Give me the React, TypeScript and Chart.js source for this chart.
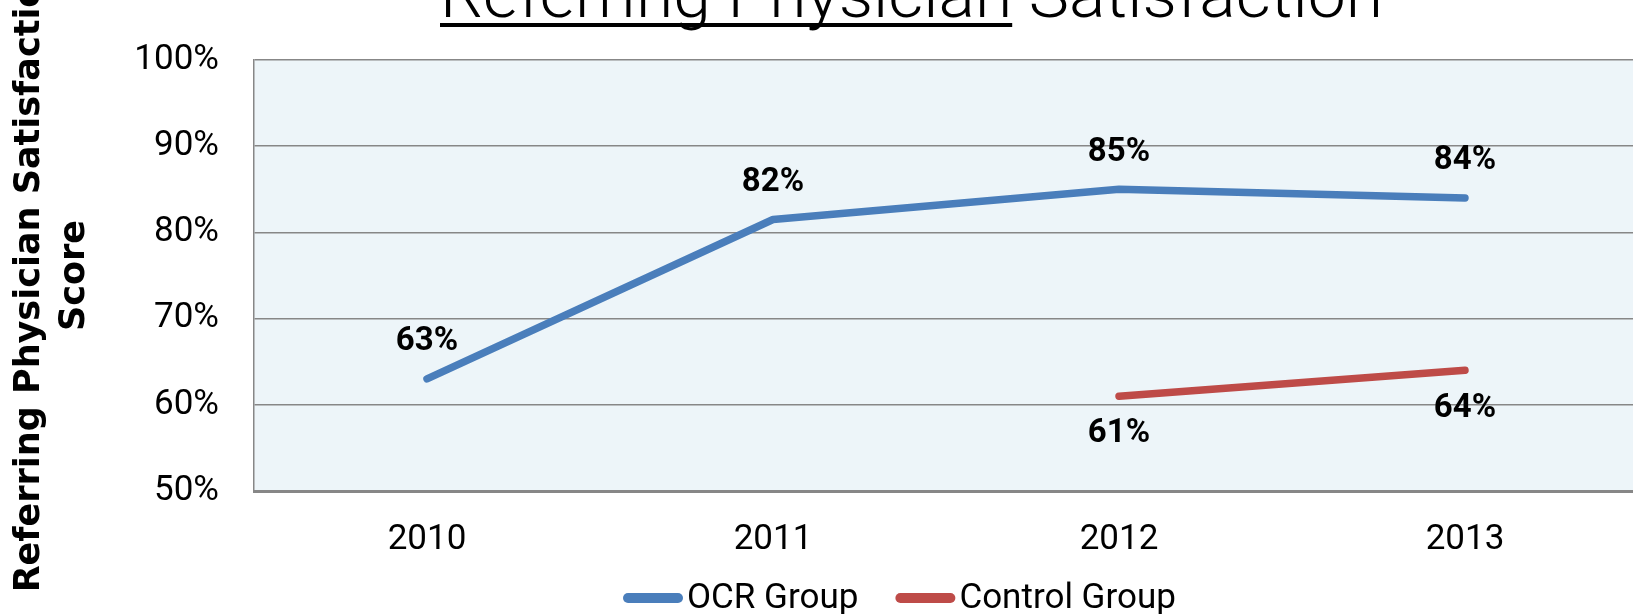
import React, { useEffect, useRef } from "react";
import { Chart, registerables } from "chart.js";

Chart.register(...registerables);

const categories = ["2010", "2011", "2012", "2013"];
const ocrValues = [63, 81.5, 85, 84];
const controlValues = [null, null, 61, 64];
const seriesNames = ["OCR Group", "Control Group"];
const seriesColors = ["#4A7EBB", "#BE4B48"];
const yMin = 50;
const yMax = 100;
const yStep = 10;
const titleUnderlined = "Referring Physician";
const titleRest = " Satisfaction";
const yAxisTitle = ["Referring Physician Satisfaction", "Score"];

const FAMILY = "Roboto, 'DejaVu Sans', sans-serif";
const TITLE_FAMILY = "'DejaVu Sans', Roboto, sans-serif";
const CANVAS_W = 1650;
const CANVAS_H = 614;

const plotBgPlugin = {
  id: "plotBg",
  beforeDraw(chart: any) {
    const { ctx, chartArea } = chart;
    ctx.save();
    ctx.fillStyle = "#EDF5F9";
    ctx.fillRect(chartArea.left, chartArea.top, chartArea.right - chartArea.left, chartArea.bottom - chartArea.top);
    ctx.restore();
  },
};

const dataLabelPlugin = {
  id: "dataLabels",
  afterDatasetsDraw(chart: any) {
    const { ctx } = chart;
    ctx.save();
    ctx.font = `bold 33px ${FAMILY}`;
    ctx.fillStyle = "#000";
    ctx.textAlign = "center";
    ctx.textBaseline = "middle";
    chart.data.datasets.forEach((ds: any, di: number) => {
      const meta = chart.getDatasetMeta(di);
      meta.data.forEach((pt: any, i: number) => {
        const v = ds.data[i];
        if (v === null || v === undefined) return;
        const dy = di === 0 ? -37 : 38;
        ctx.fillText(Math.round(v) + "%", pt.x, pt.y + dy);
      });
    });
    ctx.restore();
  },
};

const titleLegendPlugin = {
  id: "titleLegend",
  afterDraw(chart: any) {
    const { ctx } = chart;
    // Title
    ctx.save();
    ctx.font = `300 64px ${FAMILY}`;
    ctx.fillStyle = "#000";
    ctx.textBaseline = "alphabetic";
    ctx.textAlign = "left";
    const full = titleUnderlined + titleRest;
    const wFull = ctx.measureText(full).width;
    const wU = ctx.measureText(titleUnderlined).width;
    const left = 440;
    const right = 1383;
    const sx = (right - left) / wFull;
    ctx.translate(left, 17);
    ctx.scale(sx, 1);
    ctx.fillText(full, 0, 0);
    ctx.fillRect(0, 6, wU, 4);
    ctx.restore();

    // Legend
    ctx.save();
    ctx.font = `35px ${FAMILY}`;
    ctx.textBaseline = "alphabetic";
    ctx.textAlign = "left";
    let x = 623;
    chart.data.datasets.forEach((ds: any) => {
      ctx.strokeStyle = ds.borderColor;
      ctx.lineWidth = 10;
      ctx.lineCap = "round";
      ctx.beginPath();
      ctx.moveTo(x + 5, 598);
      ctx.lineTo(x + 55, 598);
      ctx.stroke();
      ctx.fillStyle = "#000";
      const tx = x + 64;
      ctx.fillText(ds.label, tx, 608);
      x = tx + ctx.measureText(ds.label).width + 37;
    });
    ctx.restore();
  },
};

export default function App() {
  const canvasRef = useRef<HTMLCanvasElement | null>(null);

  useEffect(() => {
    const canvas = canvasRef.current;
    if (!canvas) return;
    const chart = new Chart(canvas, {
      type: "line",
      data: {
        labels: categories,
        datasets: [
          {
            label: seriesNames[0],
            data: ocrValues,
            borderColor: seriesColors[0],
            backgroundColor: seriesColors[0],
            borderWidth: 7.5,
            borderCapStyle: "round",
            borderJoinStyle: "round",
            pointRadius: 0,
            tension: 0,
          },
          {
            label: seriesNames[1],
            data: controlValues,
            borderColor: seriesColors[1],
            backgroundColor: seriesColors[1],
            borderWidth: 7.5,
            borderCapStyle: "round",
            borderJoinStyle: "round",
            pointRadius: 0,
            tension: 0,
          },
        ],
      },
      options: {
        responsive: false,
        animation: false,
        devicePixelRatio: 1,
        layout: { padding: { left: 0, right: 12, top: 60, bottom: 53 } },
        plugins: {
          legend: { display: false },
          title: { display: false },
          tooltip: { enabled: false },
        },
        scales: {
          x: {
            offset: true,
            grid: { display: false, drawTicks: false, offset: true },
            border: { display: true, color: "#878787", width: 3 },
            ticks: { font: { family: FAMILY, size: 35 }, color: "#000", padding: 28 },
            afterFit: (s: any) => {
              s.height = 70;
            },
          },
          y: {
            min: yMin,
            max: yMax,
            ticks: {
              stepSize: yStep,
              callback: (v: any) => v + "%",
              font: { family: FAMILY, size: 35 },
              color: "#000",
              padding: 35,
            },
            grid: { color: "#878787", lineWidth: 1.5, drawTicks: false },
            border: { display: true, color: "#878787", width: 1.5 },
            title: {
              display: true,
              text: yAxisTitle,
              color: "#000",
              font: { family: TITLE_FAMILY, size: 35, weight: "bold", lineHeight: 1.3 },
              padding: { top: 7, bottom: 0 },
            },
            afterFit: (s: any) => {
              s.width = 254;
            },
          },
        },
      },
      plugins: [plotBgPlugin, dataLabelPlugin, titleLegendPlugin],
    } as any);
    return () => chart.destroy();
  }, []);

  return (
    <div
      style={{
        position: "fixed",
        left: 0,
        top: 0,
        width: 1633,
        height: 614,
        overflow: "hidden",
        background: "#fff",
      }}
    >
      <canvas ref={canvasRef} width={CANVAS_W} height={CANVAS_H} style={{ display: "block" }} />
    </div>
  );
}
